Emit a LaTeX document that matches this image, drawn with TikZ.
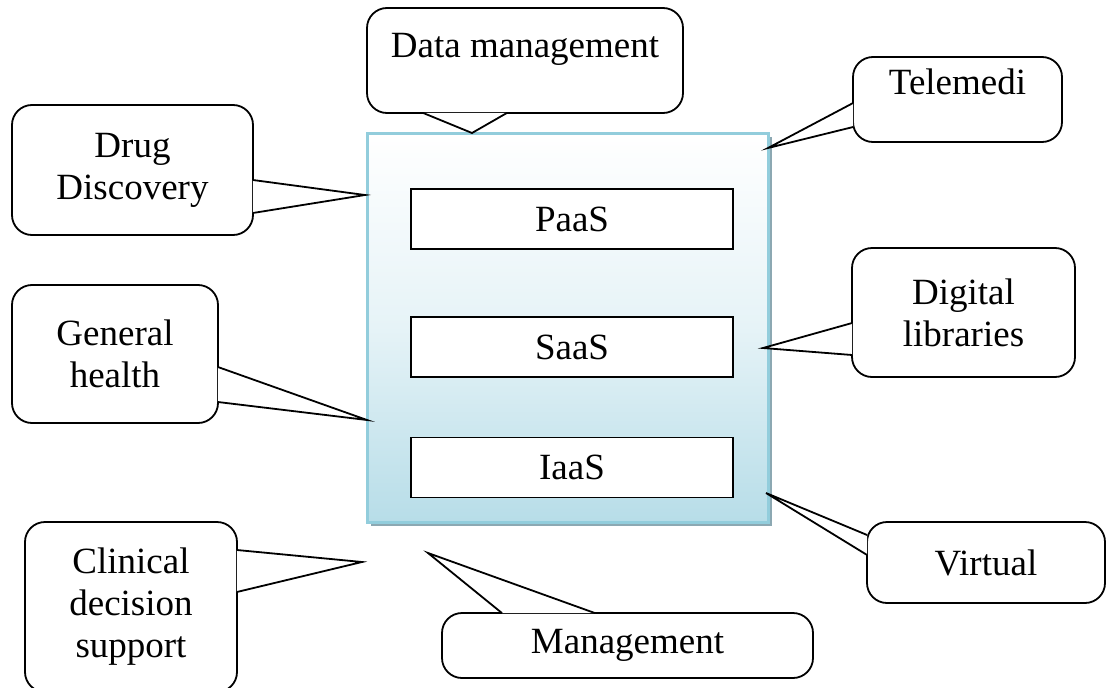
\documentclass[tikz,border=0pt]{standalone}
\usepackage{fontspec}
\setmainfont{Liberation Serif}
\usepackage{xcolor}
\usepackage{tikz}
\usetikzlibrary{shadows}
\definecolor{CloudBlue}{RGB}{183,221,232}
\definecolor{CloudEdge}{RGB}{146,205,220}
\definecolor{CloudShade}{RGB}{140,168,178}
\tikzset{
    bubble/.style={
        draw, fill=white, line width=1.8pt, rounded corners=20pt, inner sep=0pt, align=center, font=\fontsize{37}{42}\selectfont
    },
    tail/.style={
        draw, fill=white, line width=1.8pt, line join=miter
    },
    layer/.style={
        draw, fill=white, line width=1.8pt, minimum width=322pt, minimum height=60pt, inner sep=0pt, font=\fontsize{37}{42}\selectfont
    }
}

\begin{document}
\begin{tikzpicture}[x=1pt, y=-1pt]
        \useasboundingbox (0,0) rectangle (1106,688);
        \clip (0,0) rectangle (1106,688);
        % cloud service stack
        \node[draw=CloudEdge, line width=3pt, top color=white, bottom color=CloudBlue, middle color=CloudBlue!35, minimum width=401pt, minimum height=389pt, drop shadow={shadow xshift=4pt, shadow yshift=-4pt, fill=CloudShade, opacity=1}] (cloud) at (567.5,327.5) {};
        \node[layer] (paas) at (572,219) {PaaS};
        \node[layer] (saas) at (572,347) {SaaS};
        \node[layer] (iaas) at (572,467.5) {IaaS};

        % where the callouts point
        \coordinate (tdata) at (472,133);
        \coordinate (ttele) at (768,148);
        \coordinate (tdrug) at (365,195);
        \coordinate (tdigital) at (763,348);
        \coordinate (thealth) at (367,420);
        \coordinate (tvirtual) at (766,493);
        \coordinate (tclinical) at (362,562);
        \coordinate (tmgmt) at (428,553);

        % callouts
        \node[bubble, minimum width=316pt, minimum height=105pt, text height=49pt, text depth=56pt] (datam) at (525,60.5) {Data management};
        \node[bubble, minimum width=209pt, minimum height=85pt, text height=37pt, text depth=48pt] (tele) at (957.5,99.5) {Telemedi};
        \node[bubble, minimum width=241pt, minimum height=130pt] (drug) at (132.5,170) {Drug\\Discovery};
        \node[bubble, minimum width=223pt, minimum height=129pt] (digital) at (963.5,312.5) {Digital\\libraries};
        \node[bubble, minimum width=206pt, minimum height=138pt] (general) at (115,354) {General\\health};
        \node[bubble, minimum width=238pt, minimum height=81pt] (virtual) at (986,562.5) {Virtual};
        \node[bubble, minimum width=212pt, minimum height=170pt] (clinical) at (131,607) {Clinical\\decision\\support};
        \node[bubble, minimum width=371pt, minimum height=65pt] (mgmt) at (627.5,645.5) {Management};

        \path[tail] ([xshift=-102pt,yshift=1pt]datam.south) -- (tdata) -- ([xshift=-18pt,yshift=1pt]datam.south);
        \path[tail] ([xshift=1pt,yshift=-3.5pt]tele.west) -- (ttele) -- ([xshift=1pt,yshift=-27.5pt]tele.west);
        \path[tail] ([xshift=-1pt,yshift=-10pt]drug.east) -- (tdrug) -- ([xshift=-1pt,yshift=-43pt]drug.east);
        \path[tail] ([xshift=1pt,yshift=-10.5pt]digital.west) -- (tdigital) -- ([xshift=1pt,yshift=-42.5pt]digital.west);
        \path[tail] ([xshift=-1pt,yshift=-13pt]general.east) -- (thealth) -- ([xshift=-1pt,yshift=-48pt]general.east);
        \path[tail] ([xshift=1pt,yshift=27.5pt]virtual.west) -- (tvirtual) -- ([xshift=1pt,yshift=7.5pt]virtual.west);
        \path[tail] ([xshift=-1pt,yshift=57pt]clinical.east) -- (tclinical) -- ([xshift=-1pt,yshift=15pt]clinical.east);
        \path[tail] ([xshift=-125.5pt,yshift=-1pt]mgmt.north) -- (tmgmt) -- ([xshift=-32.5pt,yshift=-1pt]mgmt.north);
\end{tikzpicture}
\end{document}
